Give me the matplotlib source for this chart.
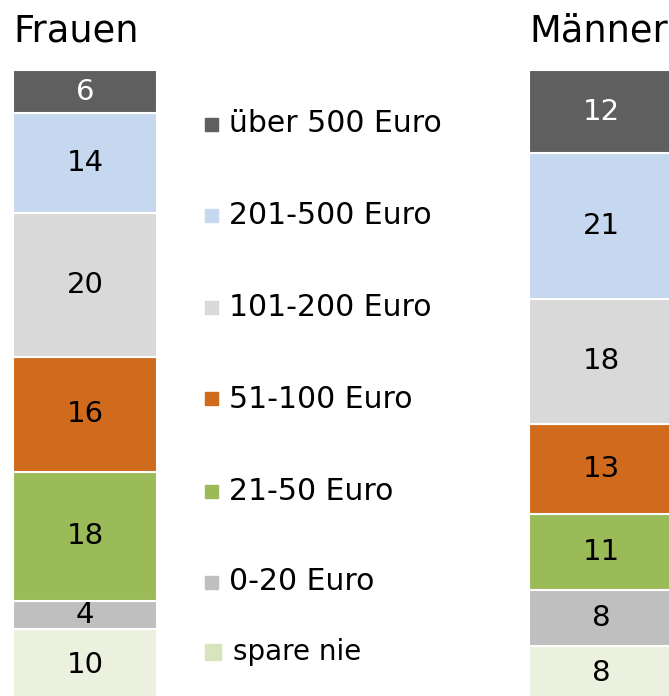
import matplotlib.pyplot as plt
import matplotlib.patches as mpatches

# categories from bottom to top
categories = ['spare nie', '0-20 Euro', '21-50 Euro', '51-100 Euro',
              '101-200 Euro', '201-500 Euro', 'über 500 Euro']
frauen = [10, 4, 18, 16, 20, 14, 6]
maenner = [8, 8, 11, 13, 18, 21, 12]
colors = ['#ebf1de', '#bfbfbf', '#9bbb59', '#d06b1d',
          '#d9d9d9', '#c6d7f0', '#5f5f5f']
legend_colors = ['#d7e4bd', '#bfbfbf', '#9bbb59', '#d06b1d',
                 '#d9d9d9', '#c6d7f0', '#5f5f5f']

W, H = 669, 696
fig = plt.figure(figsize=(W / 100, H / 100), dpi=100)
plt.rcParams['font.family'] = 'DejaVu Sans'


def stacked(left_px, values, title):
    ax = fig.add_axes([left_px / W, 1 - 701 / H, 144 / W, 631 / H])
    total = sum(values)
    bottom = 0
    for v, c in zip(values, colors):
        ax.bar(0, v, bottom=bottom, width=1, color=c, edgecolor='white', linewidth=1.5)
        txt_color = 'white' if c == '#5f5f5f' else 'black'
        ax.text(0, bottom + v / 2, str(v), ha='center', va='center',
                fontsize=21, color=txt_color)
        bottom += v
    ax.set_xlim(-0.5, 0.5)
    ax.set_ylim(0, total)
    ax.axis('off')
    fig.text(left_px / W, 1 - 31 / H, title, ha='left', va='center', fontsize=26.5)


stacked(13, frauen, 'Frauen')
stacked(529, maenner, 'Männer')

# legend, top to bottom
legend_y = [124, 215, 307, 399, 491, 582, 652]
for i, y in enumerate(legend_y):
    k = len(categories) - 1 - i
    if categories[k] == 'spare nie':
        size, x0, fs, gap = 16, 205, 20, 12
    else:
        size, x0, fs, gap = 13, 205, 21.5, 11
    fig.patches.append(mpatches.Rectangle(
        (x0 / W, 1 - (y + size / 2) / H), size / W, size / H,
        transform=fig.transFigure, color=legend_colors[k], figure=fig))
    fig.text((x0 + size + gap) / W, 1 - y / H, categories[k],
             ha='left', va='center', fontsize=fs)

plt.savefig('out.png', dpi=100)
